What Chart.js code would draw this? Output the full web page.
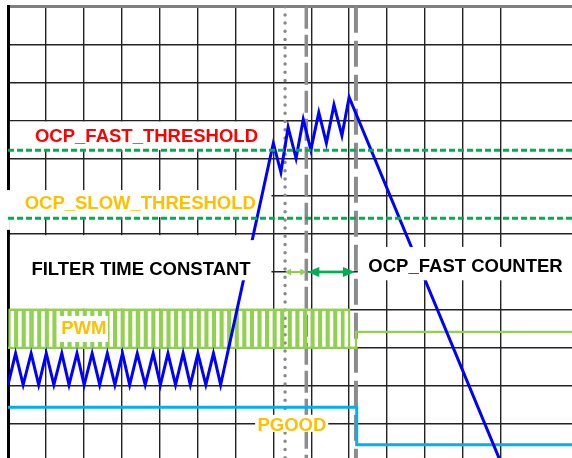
<!DOCTYPE html>
<html>
<head>
<meta charset="utf-8">
<script src="https://cdn.jsdelivr.net/npm/chart.js@4.4.0/dist/chart.umd.min.js"></script>
<style>
  html, body { margin: 0; padding: 0; background: #fff; overflow: hidden; }
  #timing { display: block; }
</style>
</head>
<body>
<canvas id="timing" width="572" height="458"></canvas>
<script>
// ═══════════ DATA (grid divisions: x = time, y = divisions from top) ═══════════
const xDivs = 14.88;
const yDivs = 11.91;

// PWM pulses (rising / falling edge times)
const pwmOn  = [0.04, 0.24, 0.44, 0.65, 0.85, 1.05, 1.25, 1.45, 1.65, 1.85, 2.05, 2.25, 2.45, 2.65, 2.85,
                3.05, 3.25, 3.46, 3.66, 3.86, 4.06, 4.26, 4.46, 4.66, 4.86, 5.06, 5.26, 5.46, 5.66, 5.86,
                6.06, 6.26, 6.46, 6.66, 6.86, 7.06, 7.26, 7.46, 7.66, 7.86, 8.06, 8.26, 8.46, 8.66, 8.85];
const pwmOff = [0.19, 0.39, 0.59, 0.80, 1.00, 1.20, 1.40, 1.60, 1.80, 2.00, 2.20, 2.40, 2.60, 2.80, 3.00,
                3.20, 3.40, 3.61, 3.81, 4.01, 4.21, 4.41, 4.61, 4.81, 5.01, 5.21, 5.41, 5.61, 5.81, 6.01,
                6.21, 6.41, 6.61, 6.81, 7.01, 7.21, 7.41, 7.61, 7.81, 8.01, 8.21, 8.41, 8.61, 8.81, 9.00];
const pwmHigh = 8;
const pwmLow = 9;
const pwmIdle = 8.58;
const pwmStop = 9.18;

// inductor current
const ilX = [0, 0.20, 0.40, 0.61, 0.81, 1.01, 1.21, 1.42, 1.61, 1.82, 2.01, 2.22, 2.42, 2.62, 2.82,
             3.02, 3.21, 3.41, 3.62, 3.83, 4.02, 4.22, 4.42, 4.62, 4.81, 5.01, 5.22, 5.42, 5.61,
             7.00, 7.20, 7.39, 7.60, 7.79, 7.99, 8.20, 8.40, 8.60, 8.81, 9.00, 13.10];
const ilY = [9.98, 9.15, 9.98, 9.15, 9.98, 9.15, 9.98, 9.15, 9.98, 9.15, 9.98, 9.15, 9.98, 9.15, 9.98,
             9.15, 9.98, 9.15, 9.98, 9.15, 9.98, 9.15, 9.98, 9.15, 9.98, 9.15, 9.98, 9.15, 9.98,
             3.60, 4.37, 3.18, 4.00, 2.97, 3.78, 2.79, 3.60, 2.59, 3.40, 2.39, 12.26];

// PGOOD
const pgoodX = [0, 9.20, 9.20, 14.88];
const pgoodY = [10.57, 10.57, 11.56, 11.56];

const fastThreshold = 3.79;
const slowThreshold = 5.58;

// filter start, counter start, counter end
const markerX = [7.31, 7.87, 9.18];

// ═══════════ BUILD SERIES ═══════════
const toPts = (xs, ys) => xs.map((x, i) => ({ x, y: ys[i] }));

const pwmPts = [{ x: 0, y: pwmLow }];
pwmOn.forEach((on, i) => {
    pwmPts.push({ x: on, y: pwmLow }, { x: on, y: pwmHigh }, { x: pwmOff[i], y: pwmHigh }, { x: pwmOff[i], y: pwmLow });
});
pwmPts.push({ x: pwmStop, y: pwmLow }, { x: pwmStop, y: pwmIdle }, { x: xDivs, y: pwmIdle });

const hLine = (y, x0, x1) => [{ x: x0, y }, { x: x1, y }];
const vLine = x => [{ x, y: 0 }, { x, y: yDivs }];

const base = { pointRadius: 0, tension: 0, fill: false, showLine: true };

// index 0 is drawn on top
const datasets = [
    { ...base, data: hLine(fastThreshold, 0, xDivs), borderColor: '#00b050', borderWidth: 3, borderDash: [6, 3] },
    { ...base, data: hLine(slowThreshold, 0, xDivs), borderColor: '#00b050', borderWidth: 3, borderDash: [6, 3] },
    { ...base, data: toPts(ilX, ilY), borderColor: '#0000ff', borderWidth: 3 },
    { ...base, data: toPts(pgoodX, pgoodY), borderColor: '#00b0f0', borderWidth: 3 },
    { ...base, data: pwmPts, borderColor: '#92d050', borderWidth: 2.2 },
    { ...base, data: hLine(pwmHigh, pwmOn[0], pwmOff[pwmOff.length - 1]), borderColor: '#92d050', borderWidth: 2.2 },
    { ...base, data: hLine(pwmLow, 0, pwmStop), borderColor: '#92d050', borderWidth: 2.2 },
    { ...base, data: vLine(markerX[0]), borderColor: '#8a8a8a', borderWidth: 3.5, borderDash: [0, 8.2], borderCapStyle: 'round' },
    { ...base, data: vLine(markerX[1]), borderColor: '#8c8c8c', borderWidth: 3.5, borderDash: [22, 6] },
    { ...base, data: vLine(markerX[2]), borderColor: '#8c8c8c', borderWidth: 4, borderDash: [26, 8] }
];
const IL_INDEX = 2;

// ═══════════ LABELS & COVERS ═══════════
const FONT = 'bold 18.5px "Liberation Sans", Arial, sans-serif';

// white areas that hide the grid under labels
const gridHiders = [
    [0.05, 6.95, 3.03, 3.78],
    [-0.3, 6.95, 4.84, 5.55],
    [-0.3, 0.05, 5.55, 5.89],
    [0.05, 6.95, 6.03, 7.97]
];
// white boxes over the traces
const coverBoxes = [
    [0.30, 6.70, 6.16, 7.22],
    [9.23, 15.0, 6.34, 7.22],
    [1.35, 2.64, 8.16, 8.85],
    [6.52, 8.45, 10.77, 11.22]
];
const labels = [
    { text: 'OCP_FAST_THRESHOLD', color: '#ff0000', u: 3.654, v: 3.57 },
    { text: 'OCP_SLOW_THRESHOLD', color: '#ffc000', u: 3.49, v: 5.35 },
    { text: 'FILTER TIME CONSTANT', color: '#000000', u: 3.51, v: 7.08 },
    { text: 'OCP_FAST COUNTER', color: '#000000', u: 12.07, v: 6.99 },
    { text: 'PWM', color: '#ffc000', u: 2.0, v: 8.64 },
    { text: 'PGOOD', color: '#ffc000', u: 7.49, v: 11.21 }
];

function fillBoxes(chart, boxes) {
    const { ctx, scales: { x, y } } = chart;
    ctx.save();
    ctx.fillStyle = '#ffffff';
    boxes.forEach(([u0, u1, v0, v1]) => {
        const l = x.getPixelForValue(u0), r = x.getPixelForValue(u1);
        const t = y.getPixelForValue(v0), b = y.getPixelForValue(v1);
        ctx.fillRect(l, t, r - l, b - t);
    });
    ctx.restore();
}

function drawArrow(ctx, x0, x1, yy, color, lw, headLen, headHalf) {
    ctx.save();
    ctx.strokeStyle = color;
    ctx.fillStyle = color;
    ctx.lineWidth = lw;
    ctx.beginPath();
    ctx.moveTo(x0 + headLen - 1, yy);
    ctx.lineTo(x1 - headLen + 1, yy);
    ctx.stroke();
    ctx.beginPath();
    ctx.moveTo(x0, yy);
    ctx.lineTo(x0 + headLen, yy - headHalf);
    ctx.lineTo(x0 + headLen, yy + headHalf);
    ctx.closePath();
    ctx.fill();
    ctx.beginPath();
    ctx.moveTo(x1, yy);
    ctx.lineTo(x1 - headLen, yy - headHalf);
    ctx.lineTo(x1 - headLen, yy + headHalf);
    ctx.closePath();
    ctx.fill();
    ctx.restore();
}

const annotations = {
    id: 'annotations',
    beforeDatasetsDraw(chart) {
        fillBoxes(chart, gridHiders);
    },
    afterDatasetDraw(chart, args) {
        if (args.index !== IL_INDEX) return;
        fillBoxes(chart, coverBoxes);
        const { ctx, scales: { x, y } } = chart;
        ctx.save();
        ctx.font = FONT;
        ctx.textAlign = 'center';
        ctx.textBaseline = 'alphabetic';
        labels.forEach(l => {
            ctx.fillStyle = l.color;
            ctx.fillText(l.text, x.getPixelForValue(l.u), y.getPixelForValue(l.v));
        });
        ctx.restore();
    },
    afterDatasetsDraw(chart) {
        const { ctx, scales: { x, y } } = chart;
        const yy = y.getPixelForValue(7);
        drawArrow(ctx, x.getPixelForValue(markerX[0]), x.getPixelForValue(markerX[1]), yy, '#92d050', 2, 6, 3.5);
        drawArrow(ctx, x.getPixelForValue(markerX[1]) + 1, x.getPixelForValue(markerX[2]) - 1, yy, '#00b050', 2.7, 12, 5);
    }
};

// ═══════════ CHART ═══════════
const gridColor = ctx => (Number.isInteger(ctx.tick.value) ? '#222' : 'rgba(0,0,0,0)');

new Chart(document.getElementById('timing'), {
    type: 'line',
    data: { datasets },
    options: {
        responsive: false,
        animation: false,
        devicePixelRatio: 1,
        layout: { padding: { left: 8, top: 6.7, right: 0, bottom: 0 } },
        plugins: { legend: { display: false }, tooltip: { enabled: false } },
        scales: {
            x: {
                type: 'linear', position: 'top', min: 0, max: xDivs,
                ticks: { display: false, stepSize: 1 },
                grid: { color: gridColor, lineWidth: 1.4, drawTicks: false },
                border: { display: true, color: '#7f7f7f', width: 3 }
            },
            y: {
                type: 'linear', position: 'left', reverse: true, min: 0, max: yDivs,
                ticks: { display: false, stepSize: 1 },
                grid: { color: gridColor, lineWidth: 1.4, drawTicks: false },
                border: { display: true, color: '#000', width: 3 }
            }
        }
    },
    plugins: [annotations]
});
</script>
</body>
</html>
